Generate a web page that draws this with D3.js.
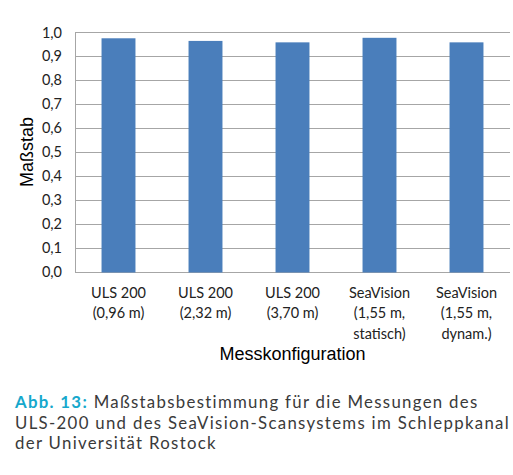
<!DOCTYPE html>
<html>
<head>
<meta charset="utf-8">
<script src="https://cdn.jsdelivr.net/npm/d3@7"></script>
<style>
  body { margin: 0; background: #fff; }
  svg { display: block; }
</style>
</head>
<body>
<svg id="chart" width="513" height="475"></svg>
<script>
// Daten
var categories = [
  ["ULS 200", "(0,96 m)"],
  ["ULS 200", "(2,32 m)"],
  ["ULS 200", "(3,70 m)"],
  ["SeaVision", "(1,55 m,", "statisch)"],
  ["SeaVision", "(1,55 m,", "dynam.)"]
];
var values = [0.975, 0.964, 0.958, 0.977, 0.958];
var yTicks = [0, 0.1, 0.2, 0.3, 0.4, 0.5, 0.6, 0.7, 0.8, 0.9, 1.0];
var yTitle = "Maßstab", xTitle = "Messkonfiguration";
var captionHead = "Abb. 13:";
var captionLines = [
  " Maßstabsbestimmung für die Messungen des",
  "ULS-200 und des SeaVision-Scansystems im Schleppkanal",
  "der Universität Rostock"
];

var svg = d3.select("#chart");
var plot = {left: 75, right: 510, top: 32.3, bottom: 271.7};
var gridColor = "#a6a6a6", barColor = "#4a7ebb";
var tickFont = "Lato, 'Open Sans', sans-serif";

var x = d3.scaleBand()
    .domain(d3.range(categories.length))
    .range([plot.left, plot.right])
    .paddingInner(0.61).paddingOuter(0.305);
var y = d3.scaleLinear().domain([0, 1]).range([plot.bottom, plot.top]);
var fmt = function(v){ return d3.format(".1f")(v).replace(".", ","); };

// Gitterlinien
svg.append("g").selectAll("line").data(yTicks).enter().append("line")
    .attr("x1", plot.left).attr("x2", plot.right)
    .attr("y1", function(d){ return Math.round(y(d)) + 0.5; })
    .attr("y2", function(d){ return Math.round(y(d)) + 0.5; })
    .attr("stroke", gridColor).attr("stroke-width", 1);
svg.append("line")
    .attr("x1", plot.left + 0.5).attr("x2", plot.left + 0.5)
    .attr("y1", Math.round(plot.top) + 0.5).attr("y2", Math.round(plot.bottom) + 0.5)
    .attr("stroke", gridColor);

// Balken
svg.append("g").selectAll("rect").data(values).enter().append("rect")
    .attr("x", function(d, i){ return x(i); })
    .attr("width", x.bandwidth())
    .attr("y", function(d){ return y(d); })
    .attr("height", function(d){ return Math.round(plot.bottom) + 0.5 - y(d); })
    .attr("fill", barColor);

// y-Achse Beschriftung
svg.append("g").selectAll("text").data(yTicks).enter().append("text")
    .attr("x", 62).attr("y", function(d){ return y(d); })
    .attr("dy", "0.36em")
    .attr("text-anchor", "end")
    .style("font-family", tickFont).style("font-size", "14.5px").attr("fill", "#222")
    .text(fmt);

// x-Achse Beschriftung
var xl = svg.append("g").selectAll("text").data(categories).enter().append("text")
    .attr("text-anchor", "middle")
    .style("font-family", tickFont).style("font-size", "14.5px").attr("fill", "#222");
xl.each(function(d, i){
  var t = d3.select(this);
  d.forEach(function(line, j){
    t.append("tspan")
      .attr("x", x(i) + x.bandwidth() / 2)
      .attr("y", 297.5 + j * 20.7)
      .text(line);
  });
});

// Achsentitel
var titleFont = "'Liberation Sans', Arial, sans-serif";
svg.append("text")
    .attr("transform", "translate(33," + ((plot.top + plot.bottom) / 2) + ") rotate(-90)")
    .attr("text-anchor", "middle")
    .style("font-family", titleFont).style("font-size", "18px")
    .attr("fill", "#000").text(yTitle);
svg.append("text")
    .attr("x", (plot.left + plot.right) / 2).attr("y", 360)
    .attr("text-anchor", "middle")
    .style("font-family", titleFont).style("font-size", "18px")
    .attr("fill", "#000").text(xTitle);

// Bildunterschrift
var capSize = 16.8;
var cap = svg.append("g").style("font-family", "Lato, sans-serif").style("font-size", capSize + "px");
var capY = [408, 428.5, 449];
var l1 = cap.append("text").attr("x", 15).attr("y", capY[0]).attr("fill", "#3a3a3a");
l1.append("tspan").attr("fill", "#16a8cc").style("font-weight", "bold").text(captionHead);
l1.append("tspan").text(captionLines[0]);
cap.append("text").attr("x", 15).attr("y", capY[1]).attr("fill", "#3a3a3a").text(captionLines[1]);
cap.append("text").attr("x", 15).attr("y", capY[2]).attr("fill", "#3a3a3a").text(captionLines[2]);

// Zeile 2 über Zeichenabstand auf Zielbreite bringen
var line2 = cap.selectAll("text").nodes()[1];
var w = line2.getComputedTextLength();
var ls = (495 - w) / captionLines[1].length;
cap.style("letter-spacing", Math.max(0, ls) + "px");
</script>
</body>
</html>
